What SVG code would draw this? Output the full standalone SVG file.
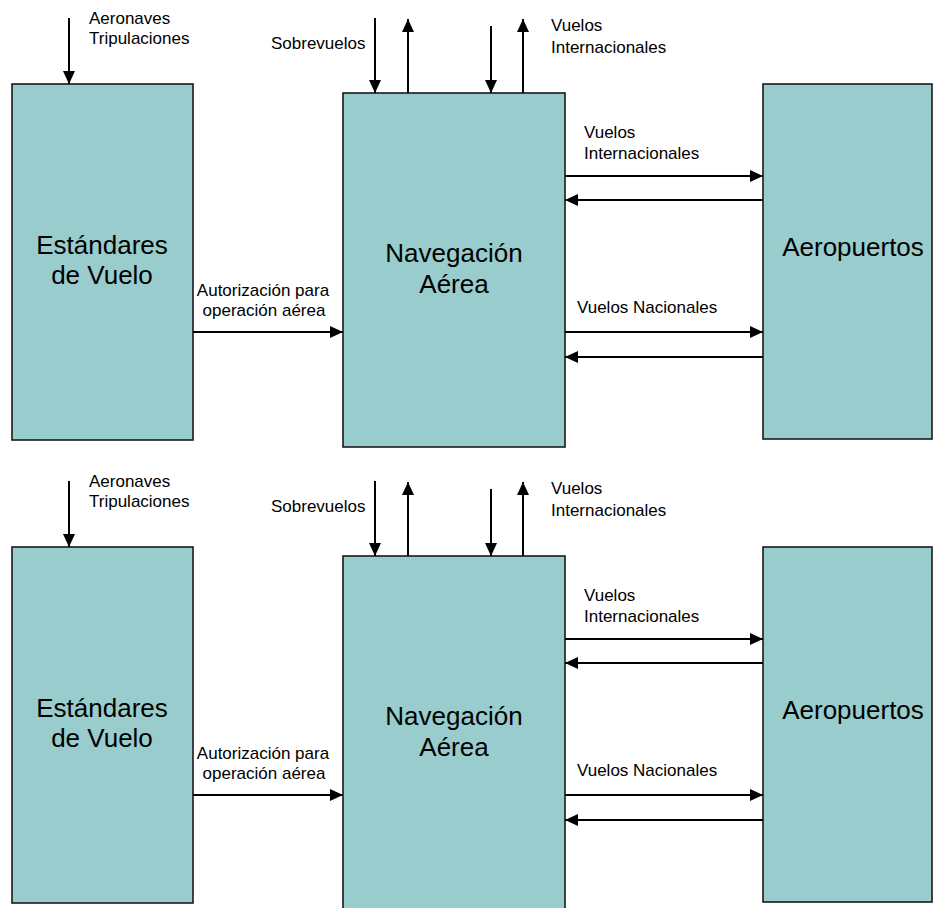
<svg xmlns="http://www.w3.org/2000/svg" width="933" height="908" viewBox="0 0 933 908">
  <style>
    .box { fill: #99cccc; stroke: #1a1a1a; stroke-width: 1.6; }
    .big { font-family: "Liberation Sans", Arial, sans-serif; font-size: 26px; fill: #000; text-anchor: middle; }
    .lbl { font-family: "Liberation Sans", Arial, sans-serif; font-size: 17px; fill: #000; }
    .mid { text-anchor: middle; }
    .wire { stroke: #000; stroke-width: 2; fill: none; marker-end: url(#ah); }
  </style>
  <defs>
    <marker id="ah" viewBox="0 0 13 12" refX="13" refY="6" markerWidth="13" markerHeight="12" markerUnits="userSpaceOnUse" orient="auto">
      <path d="M0,0 L13,6 L0,12 z" fill="#000"/>
    </marker>
  </defs>
  <rect width="933" height="908" fill="#fff"/>

  <!-- upper diagram -->
  <g id="estandares-1">
    <rect class="box" x="12" y="84" width="181" height="356"/>
    <text class="big" x="102" y="254">Estándares</text>
    <text class="big" x="102" y="284">de Vuelo</text>
  </g>
  <g id="navegacion-1">
    <rect class="box" x="343" y="93" width="222" height="354"/>
    <text class="big" x="454" y="262">Navegación</text>
    <text class="big" x="454" y="293">Aérea</text>
  </g>
  <g id="aeropuertos-1">
    <rect class="box" x="763" y="84" width="169" height="355"/>
    <text class="big" x="853" y="256">Aeropuertos</text>
  </g>
  <g id="connectors-1">
    <line class="wire" x1="69" y1="18" x2="69" y2="84"/>
    <line class="wire" x1="375" y1="18" x2="375" y2="93"/>
    <line class="wire" x1="408" y1="93" x2="408" y2="19"/>
    <line class="wire" x1="491" y1="26" x2="491" y2="93"/>
    <line class="wire" x1="523" y1="93" x2="523" y2="19"/>
    <line class="wire" x1="565" y1="176" x2="763" y2="176"/>
    <line class="wire" x1="763" y1="200" x2="565" y2="200"/>
    <line class="wire" x1="565" y1="332" x2="763" y2="332"/>
    <line class="wire" x1="763" y1="357" x2="565" y2="357"/>
    <line class="wire" x1="193" y1="332" x2="343" y2="332"/>
  </g>
  <g id="labels-1">
    <text class="lbl" x="89" y="24">Aeronaves</text>
    <text class="lbl" x="89" y="44">Tripulaciones</text>
    <text class="lbl" x="271" y="49">Sobrevuelos</text>
    <text class="lbl" x="551" y="31">Vuelos</text>
    <text class="lbl" x="551" y="53">Internacionales</text>
    <text class="lbl" x="584" y="138">Vuelos</text>
    <text class="lbl" x="584" y="159">Internacionales</text>
    <text class="lbl" x="577" y="313">Vuelos Nacionales</text>
    <text class="lbl mid" x="263" y="296">Autorización para</text>
    <text class="lbl mid" x="264" y="316">operación aérea</text>
  </g>

  <!-- lower diagram -->
  <g id="estandares-2">
    <rect class="box" x="12" y="547" width="181" height="356"/>
    <text class="big" x="102" y="717">Estándares</text>
    <text class="big" x="102" y="747">de Vuelo</text>
  </g>
  <g id="navegacion-2">
    <rect class="box" x="343" y="556" width="222" height="354"/>
    <text class="big" x="454" y="725">Navegación</text>
    <text class="big" x="454" y="756">Aérea</text>
  </g>
  <g id="aeropuertos-2">
    <rect class="box" x="763" y="547" width="169" height="355"/>
    <text class="big" x="853" y="719">Aeropuertos</text>
  </g>
  <g id="connectors-2">
    <line class="wire" x1="69" y1="481" x2="69" y2="547"/>
    <line class="wire" x1="375" y1="481" x2="375" y2="556"/>
    <line class="wire" x1="408" y1="556" x2="408" y2="482"/>
    <line class="wire" x1="491" y1="489" x2="491" y2="556"/>
    <line class="wire" x1="523" y1="556" x2="523" y2="482"/>
    <line class="wire" x1="565" y1="639" x2="763" y2="639"/>
    <line class="wire" x1="763" y1="663" x2="565" y2="663"/>
    <line class="wire" x1="565" y1="795" x2="763" y2="795"/>
    <line class="wire" x1="763" y1="820" x2="565" y2="820"/>
    <line class="wire" x1="193" y1="795" x2="343" y2="795"/>
  </g>
  <g id="labels-2">
    <text class="lbl" x="89" y="487">Aeronaves</text>
    <text class="lbl" x="89" y="507">Tripulaciones</text>
    <text class="lbl" x="271" y="512">Sobrevuelos</text>
    <text class="lbl" x="551" y="494">Vuelos</text>
    <text class="lbl" x="551" y="516">Internacionales</text>
    <text class="lbl" x="584" y="601">Vuelos</text>
    <text class="lbl" x="584" y="622">Internacionales</text>
    <text class="lbl" x="577" y="776">Vuelos Nacionales</text>
    <text class="lbl mid" x="263" y="759">Autorización para</text>
    <text class="lbl mid" x="264" y="779">operación aérea</text>
  </g>
</svg>
